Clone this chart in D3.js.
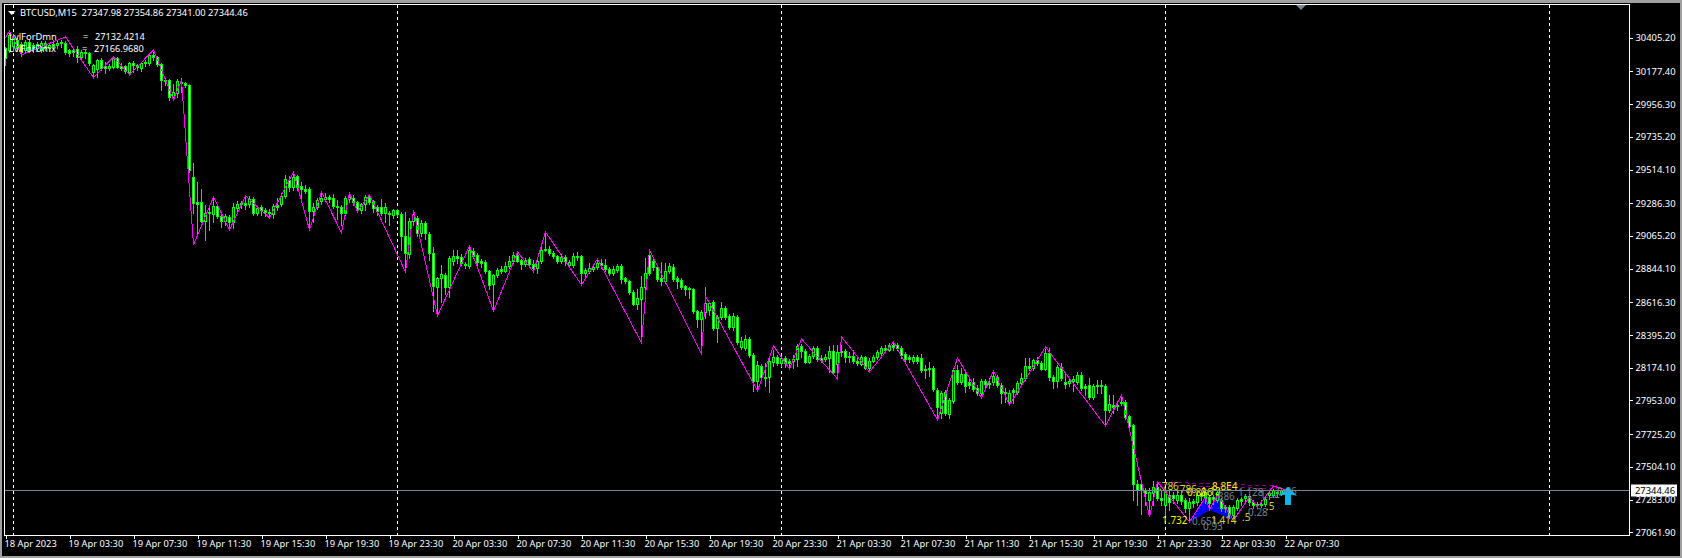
<!DOCTYPE html>
<html><head><meta charset="utf-8">
<script src="https://cdnjs.cloudflare.com/ajax/libs/d3/7.8.5/d3.min.js"></script>
<style>html,body{margin:0;padding:0;background:#000;overflow:hidden}svg{display:block}text{font-family:"Noto Sans",Tahoma,sans-serif;white-space:pre}</style>
</head><body><div id="chart"></div>
<script>
const chartTitle = "BTCUSD,M15  27347.98 27354.86 27341.00 27344.46";
const indicatorNames = ["LvlForDmn", "LvlForDmx"];
const indicatorValues = ["27132.4214", "27166.9680"];
const priceTicks = [30405.2,30177.4,29956.3,29735.2,29514.1,29286.3,29065.2,28844.1,28616.3,28395.2,28174.1,27953.0,27725.2,27504.1,27283.0,27061.9];
const currentPrice = 27344.46;
const firstBarTime = "2023-04-18T23:30:00Z";
const separatorDays = ["2023-04-19","2023-04-20","2023-04-21","2023-04-22","2023-04-23"];

const barDirections = "DUUDDUDDUU"+"DUDUDDDDDU"+"DDUUDDUUDD"+"DUDDUUUDDD"+"DDUUUDDDDD"+"UDUDDUDUUD"+"DUDUDDDUDU"+"UDUDDDDUUU"+"UDDDDUUDDU"+"UDDDDUDUDD"+
 "DUUDUDDDUU"+"DUUDDDUDDD"+"DDUUDUUUDD"+"UDDUUDDDDU"+"DUUDDUUUUD"+"DDUUDDDDUU"+"UDDDDUUDDD"+"DUDDUUUDUU"+"DDUDUUDDUD"+"DUUDUDDUUD"+
 "DUUDDUUDUD"+"DUDDUDUUUU"+"DUDDDDDUDD"+"DUDDUDUUDU"+"DDDDUDDUDD"+"DUDUUUDUDD"+"UDDUDDUUUD"+"DDUDDDUDDD"+"DDDDDDUUDD"+"UDDUDDUDUD"+"UDDUDDDUUD"+"UDDDUUUUDU"+"D";

const highs = [
30343,30438,30431,30404,30377,30391,30391,30370,30377,30384,
30384,30370,30391,30384,30391,30384,30330,30330,30350,30323,
30323,30309,30228,30262,30269,30241,30228,30276,30276,30235,
30221,30241,30248,30228,30241,30255,30296,30309,30282,30235,
30134,30127,30093,30127,30134,30106,30093,29559,29430,29383,
29275,29275,29322,29282,29208,29214,29208,29289,29302,29302,
29329,29336,29329,29268,29275,29255,29248,29282,29322,29356,
29478,29471,29498,29478,29430,29410,29397,29289,29322,29363,
29356,29343,29349,29309,29275,29336,29356,29343,29302,29289,
29343,29349,29309,29275,29316,29289,29234,29248,29248,29228,
29228,29187,29241,29201,29174,29167,29092,28991,28788,28869,
28815,28930,28971,28971,28944,28890,28998,28984,28951,28910,
28903,28836,28809,28849,28863,28890,28930,28957,28957,28910,
28917,28924,28903,28910,28991,29092,28998,28964,28937,28944,
28937,28903,28951,28957,28937,28849,28883,28869,28903,28910,
28910,28856,28863,28876,28876,28788,28768,28700,28707,28795,
28917,28971,28917,28869,28890,28883,28883,28876,28795,28782,
28734,28721,28714,28565,28565,28721,28619,28633,28531,28619,
28592,28538,28545,28531,28383,28396,28383,28274,28220,28200,
28207,28234,28295,28261,28254,28254,28234,28261,28335,28335,
28301,28267,28322,28322,28261,28267,28322,28329,28329,28329,
28301,28281,28295,28240,28261,28254,28240,28261,28295,28322,
28329,28342,28349,28342,28322,28281,28261,28261,28261,28267,
28193,28213,28186,28038,28018,28024,27970,28173,28193,28173,
28146,28105,28105,28058,28099,28099,28105,28153,28126,28072,
28038,28024,28038,28085,28139,28241,28241,28234,28247,28220,
28301,28308,28126,28193,28207,28132,28105,28119,28146,28146,
28065,28105,28065,28092,28092,28065,27991,27991,27943,27991,
27957,27855,27794,27416,27402,27362,27362,27409,27395,27348,
27362,27348,27335,27348,27342,27294,27294,27287,27328,27342,
27348,27315,27315,27348,27294,27247,27247,27247,27294,27301,
27321,27321,27280,27267,27280,27301,27342,27355,27348,27362,27354.86];

const bodyHighs = [
30336,30424,30404,30391,30364,30377,30377,30357,30364,30370,
30370,30357,30364,30370,30377,30370,30323,30323,30330,30309,
30309,30303,30221,30255,30255,30215,30215,30269,30269,30215,
30215,30235,30235,30221,30235,30241,30289,30289,30276,30228,
30120,30120,30039,30113,30106,30100,30086,29465,29295,29295,
29221,29228,29268,29268,29201,29201,29194,29262,29282,29289,
29289,29316,29316,29255,29262,29241,29228,29268,29275,29336,
29451,29444,29465,29471,29403,29383,29383,29262,29309,29322,
29329,29329,29322,29268,29262,29322,29329,29322,29295,29282,
29329,29329,29302,29262,29262,29262,29221,29241,29241,29214,
29065,29167,29214,29187,29153,29153,29079,28951,28782,28809,
28802,28917,28930,28930,28924,28876,28971,28964,28937,28896,
28890,28829,28802,28836,28842,28863,28896,28937,28937,28903,
28903,28910,28876,28896,28971,28978,28978,28951,28930,28924,
28924,28890,28930,28930,28930,28836,28849,28856,28883,28883,
28869,28842,28842,28863,28863,28782,28761,28687,28646,28721,
28815,28937,28896,28856,28782,28829,28863,28856,28782,28768,
28727,28714,28707,28558,28552,28612,28612,28619,28518,28579,
28579,28525,28525,28518,28356,28369,28369,28261,28193,28186,
28112,28220,28247,28247,28240,28240,28220,28234,28322,28322,
28288,28254,28308,28308,28240,28247,28288,28288,28281,28288,
28288,28254,28254,28220,28247,28247,28220,28247,28281,28308,
28308,28329,28329,28329,28308,28267,28247,28247,28247,28240,
28166,28173,28173,28024,28004,28011,27957,28159,28159,28132,
28132,28078,28078,28038,28085,28085,28072,28119,28112,28058,
28011,28004,28024,28072,28105,28186,28186,28227,28227,28207,
28274,28274,28112,28180,28180,28078,28085,28099,28126,28126,
28051,28058,28051,28058,28058,28051,27929,27923,27923,27943,
27943,27848,27788,27389,27389,27348,27335,27369,27369,27294,
27342,27315,27315,27315,27315,27280,27267,27274,27315,27328,
27335,27301,27301,27335,27280,27233,27233,27233,27280,27287,
27308,27308,27267,27254,27254,27287,27328,27348,27335,27348,27347.98];

const bodyLows = [
30269,30323,30350,30336,30309,30323,30323,30330,30336,30323,
30336,30336,30350,30357,30370,30309,30303,30309,30276,30276,
30303,30235,30174,30194,30201,30201,30201,30208,30208,30201,
30181,30174,30221,30208,30201,30235,30235,30276,30228,30120,
30113,30005,30005,30032,30100,30086,29512,29289,29282,29167,
29167,29221,29214,29201,29167,29167,29160,29160,29255,29282,
29275,29282,29221,29221,29241,29228,29221,29214,29262,29282,
29336,29397,29397,29397,29383,29370,29234,29234,29262,29302,
29316,29316,29268,29262,29221,29221,29316,29295,29248,29241,
29282,29295,29255,29234,29221,29221,29214,29208,29214,29065,
28951,28944,29167,29086,29086,29086,28951,28727,28721,28782,
28721,28721,28897,28917,28883,28869,28863,28930,28890,28883,
28829,28734,28741,28802,28829,28829,28863,28896,28896,28876,
28876,28876,28849,28849,28896,28971,28951,28930,28896,28896,
28896,28869,28869,28924,28815,28815,28829,28842,28856,28869,
28842,28815,28815,28836,28775,28761,28687,28606,28606,28639,
28721,28815,28856,28775,28761,28761,28829,28775,28761,28721,
28707,28707,28558,28504,28504,28552,28565,28443,28443,28518,
28518,28450,28450,28349,28315,28308,28261,28085,28085,28112,
28105,28112,28214,28207,28207,28207,28207,28220,28234,28288,
28214,28214,28254,28234,28227,28234,28240,28146,28200,28281,
28247,28247,28220,28207,28200,28173,28173,28220,28247,28274,
28295,28295,28315,28308,28261,28234,28234,28220,28220,28159,
28159,28166,28031,27909,27869,27869,27862,27950,28078,28078,
28051,28058,28031,28004,28004,28065,28065,28078,28058,28004,
28004,27943,28011,28011,28072,28105,28173,28173,28207,28166,
28166,28112,28085,28085,28105,28065,28072,28085,28078,28038,
28038,27977,27977,28051,28051,27889,27889,27909,27916,27936,
27842,27781,27389,27348,27348,27328,27280,27328,27294,27280,
27247,27267,27294,27280,27274,27226,27226,27260,27267,27308,
27294,27260,27287,27280,27226,27226,27179,27179,27226,27274,
27294,27267,27247,27247,27247,27254,27315,27315,27328,27328,27344.46];

const lows = [
30221,30309,30323,30316,30282,30303,30309,30309,30323,30309,
30323,30316,30330,30336,30343,30296,30282,30282,30241,30255,
30269,30221,30134,30140,30188,30167,30188,30201,30201,30188,
30167,30154,30174,30188,30181,30215,30221,30255,30215,30052,
30086,29985,29985,30005,30039,30073,29498,29221,29086,29160,
29038,29106,29160,29187,29127,29140,29113,29120,29221,29255,
29248,29262,29208,29208,29208,29201,29201,29187,29241,29268,
29322,29370,29376,29376,29322,29356,29106,29160,29248,29282,
29302,29295,29255,29180,29140,29208,29295,29275,29234,29221,
29241,29282,29228,29208,29208,29160,29140,29187,29201,28971,
28823,28917,29140,29065,29065,29045,28903,28558,28545,28619,
28673,28653,28869,28883,28869,28849,28849,28917,28869,28856,
28815,28707,28558,28788,28815,28822,28849,28883,28890,28842,
28863,28863,28822,28815,28883,28964,28937,28917,28883,28883,
28869,28856,28856,28903,28734,28795,28815,28829,28842,28849,
28829,28802,28802,28822,28748,28748,28673,28599,28572,28376,
28633,28802,28836,28761,28734,28748,28815,28761,28714,28707,
28666,28646,28545,28450,28315,28511,28531,28430,28349,28504,
28504,28437,28430,28335,28302,28295,28247,28018,28024,28099,
28051,28011,28186,28193,28186,28180,28166,28173,28186,28247,
28207,28207,28240,28220,28214,28220,28146,28139,28126,28254,
28214,28214,28207,28193,28193,28166,28146,28214,28234,28261,
28281,28288,28295,28295,28240,28214,28214,28207,28207,28146,
28105,28119,28018,27821,27835,27855,27835,27936,28065,28065,
28011,28038,28018,27991,27991,28038,28038,28058,28045,27936,
27943,27923,27936,27997,28058,28092,28159,28159,28193,28159,
28159,28092,28038,28045,28092,28038,28051,28018,28065,28024,
27991,27963,27963,28004,28004,27781,27875,27869,27889,27923,
27828,27767,27280,27247,27186,27247,27172,27247,27280,27247,
27179,27213,27260,27260,27254,27199,27145,27233,27247,27280,
27260,27233,27254,27267,27206,27199,27159,27145,27213,27247,
27267,27247,27226,27226,27233,27240,27287,27301,27308,27315,27341];

const zigzagBars = [0,1,4,15,22,27,31,37,42,44,47,52,56,60,66,72,76,79,84,86,88,91,100,102,108,116,122,128,132,135,144,148,159,161,174,175,188,192,196,199,208,209,216,222,233,238,244,247,251,260,275,279,286,288,296,300,301,303,307,311,313,317,320];
const zigzagPrices = [30404,30451,30289,30411,30134,30276,30154,30323,29985,30120,29005,29329,29106,29336,29187,29498,29106,29363,29086,29356,29228,29343,28822,29241,28525,28998,28558,28957,28822,29092,28734,28910,28342,28971,28268,28660,28018,28322,28166,28369,28099,28383,28146,28349,27821,28241,27970,28153,27923,28315,27781,27991,27166.97,27402,27132.42,27301,27213,27315,27145,27301,27233,27375,27348];

const patternBars = [[296.25,300.25,301.25],[301.25,303,307]];
const patternPrices = [[27132,27310,27213],[27213,27325,27145]];
const boxLineBars = [[288,318],[288,318]];
const boxLinePrices = [[27402,27375],[27385,27355]];

const fibTexts  = ["1.732","0.651","0.93","1.414",".5","0.28",".5",".786",".786","0.886","1.13","8.8E4",".886","1.128","1.52","0.86"];
const fibBars   = [289.25,296.75,299.5,301.5,309.25,310.75,315.25,288.5,293,295.5,299,301.75,302.5,308.25,313.75,318];
const fibPrices = [27145,27132,27098,27145,27159,27193,27233,27369,27348,27328,27335,27369,27301,27328,27315,27335];
const fibKinds  = ["b","g","g","y","y","g","y","y","y","b","b","b","g","g","g","g"];
const arrowBar = 320.75, arrowTipPrice = 27369, arrowBasePrice = 27247;

const W = 1682, H = 558;
const frame = {l:4.5, t:4.5, r:1629.5, b:535.5};
const t0 = new Date(firstBarTime);
const barTime = i => new Date(+t0 + i*15*60000);
const x = d3.scaleUtc().domain([t0, barTime(320)]).range([5,1285]);
const y = d3.scaleLinear().domain([27061.9,30405.2]).range([532.3,37.7]);
const bx = i => x(barTime(i));
const py = p => Math.round(y(p));

const svg = d3.select("#chart").append("svg").attr("width",W).attr("height",H);
svg.append("rect").attr("width",W).attr("height",H).attr("fill","#a0a0a0");
svg.append("rect").attr("x",2).attr("y",3).attr("width",W-4).attr("height",H-5).attr("fill","#000");

const separators = svg.append("g");
separators.selectAll("line").data(separatorDays).join("line")
  .attr("x1",d=>Math.round(x(new Date(d+"T00:00:00Z")))+.5)
  .attr("x2",d=>Math.round(x(new Date(d+"T00:00:00Z")))+.5)
  .attr("y1",5).attr("y2",535).attr("stroke","#fff").attr("stroke-dasharray","3,3").attr("shape-rendering","crispEdges");

const pat = svg.append("g");
pat.selectAll("polygon").data(patternBars).join("polygon")
  .attr("points",(b,k)=>b.map((v,j)=>[bx(v),y(patternPrices[k][j])].join(",")).join(" "))
  .attr("fill","#0000ff");

svg.append("g").selectAll("line").data(boxLineBars).join("line")
  .attr("x1",d=>bx(d[0])).attr("x2",d=>bx(d[1]))
  .attr("y1",(d,k)=>y(boxLinePrices[k][0])).attr("y2",(d,k)=>y(boxLinePrices[k][1]))
  .attr("stroke","#8b008b").attr("stroke-dasharray","4,3").attr("shape-rendering","crispEdges");

const idx = d3.range(highs.length);
const candles = svg.append("g").attr("shape-rendering","crispEdges");
candles.selectAll("line").data(idx).join("line")
  .attr("x1",i=>bx(i)+.5).attr("x2",i=>bx(i)+.5)
  .attr("y1",i=>py(highs[i])).attr("y2",i=>py(lows[i])+1)
  .attr("stroke","#00ff00");
candles.selectAll("rect").data(idx).join("rect")
  .attr("x",i=>bx(i)-.5).attr("width",2)
  .attr("y",i=>py(bodyHighs[i])+.5)
  .attr("height",i=>Math.max(py(bodyLows[i])-py(bodyHighs[i]),0))
  .attr("fill",i=>barDirections[i]==="D"?"#fff":"#000")
  .attr("stroke","#00ff00");

svg.append("path").datum(zigzagBars)
  .attr("d",d3.line().x(b=>bx(b)+.5).y((b,k)=>y(zigzagPrices[k])))
  .attr("fill","none").attr("stroke","#ff00ff").attr("shape-rendering","crispEdges");

const fibColor = {y:"#d4d430", g:"#708090", b:"#f0f000"};
svg.append("g").selectAll("text").data(fibTexts).join("text")
  .attr("x",(d,k)=>bx(fibBars[k])).attr("y",(d,k)=>y(fibPrices[k])+3.5)
  .attr("fill",(d,k)=>fibColor[fibKinds[k]]).attr("font-size",10).text(d=>d);

const ax = bx(arrowBar), aT = y(arrowTipPrice), aB = y(arrowBasePrice);
svg.append("path")
  .attr("d",`M${ax},${aT}L${ax+9},${aT+9}L${ax+3},${aT+8}L${ax+3},${aB}L${ax-3},${aB}L${ax-3},${aT+8}L${ax-9},${aT+9}Z`)
  .attr("fill","#0fb5e8");

svg.append("line").attr("x1",5).attr("x2",frame.r)
  .attr("y1",Math.round(y(currentPrice))+.5).attr("y2",Math.round(y(currentPrice))+.5)
  .attr("stroke","#778899").attr("shape-rendering","crispEdges");

svg.append("rect").attr("x",frame.l).attr("y",frame.t).attr("width",frame.r-frame.l).attr("height",frame.b-frame.t)
  .attr("fill","none").attr("stroke","#fff").attr("shape-rendering","crispEdges");
svg.append("path").attr("d","M1296,5L1306,5L1301,10Z").attr("fill","#778899");

// axes
const yAxis = d3.axisRight(y).tickValues(priceTicks).tickFormat(d3.format(".2f")).tickSize(3).tickPadding(3);
const gy = svg.append("g").attr("transform",`translate(${frame.r},0)`).call(yAxis);
gy.select(".domain").remove();
gy.selectAll("line").attr("stroke","#fff").attr("shape-rendering","crispEdges");
gy.selectAll("text").attr("fill","#fff").attr("font-size",9.4).attr("font-family",'"Noto Sans"');

const xTickTimes = d3.range(0,20).map(k=>new Date(Date.UTC(2023,3,19,3,30)+k*4*3600000));
const xTicks = [t0,...xTickTimes];
const fmt = d3.utcFormat("%d %b %H:%M");
const xAxis = d3.axisBottom(x).tickValues(xTicks)
  .tickFormat(d=>+d===+t0?"18 Apr 2023":fmt(d)).tickSize(3).tickPadding(2);
const gx = svg.append("g").attr("transform",`translate(.5,${frame.b})`).call(xAxis);
gx.select(".domain").remove();
gx.selectAll("line").attr("stroke","#fff").attr("shape-rendering","crispEdges");
gx.selectAll("text").attr("fill","#fff").attr("font-size",9.3).attr("text-anchor","start").attr("dx",-1.5).attr("font-family",'"Noto Sans"');

// current price box
svg.append("rect").attr("x",1631).attr("y",y(currentPrice)-6).attr("width",46).attr("height",12).attr("fill","#fff");
svg.append("text").attr("x",1635).attr("y",y(currentPrice)+3.5).attr("fill","#000").attr("font-size",9.4).text(currentPrice.toFixed(2));

// header
svg.append("path").attr("d","M8,11L15.5,11L11.75,15Z").attr("fill","#fff");
svg.append("text").attr("x",20).attr("y",16).attr("fill","#fff").attr("font-size",9.3).text(chartTitle);
const yRow = [40,52], xVal=[95,94];
indicatorNames.forEach((n,k)=>{
  svg.append("text").attr("x",9).attr("y",yRow[k]).attr("fill","#fff").attr("font-size",9.4).text(n);
  svg.append("text").attr("x",k?82:83).attr("y",yRow[k]).attr("fill","#fff").attr("font-size",9.4).text("=");
  svg.append("text").attr("x",xVal[k]).attr("y",yRow[k]).attr("fill","#fff").attr("font-size",9.2).text(indicatorValues[k]);
});
</script></body></html>
